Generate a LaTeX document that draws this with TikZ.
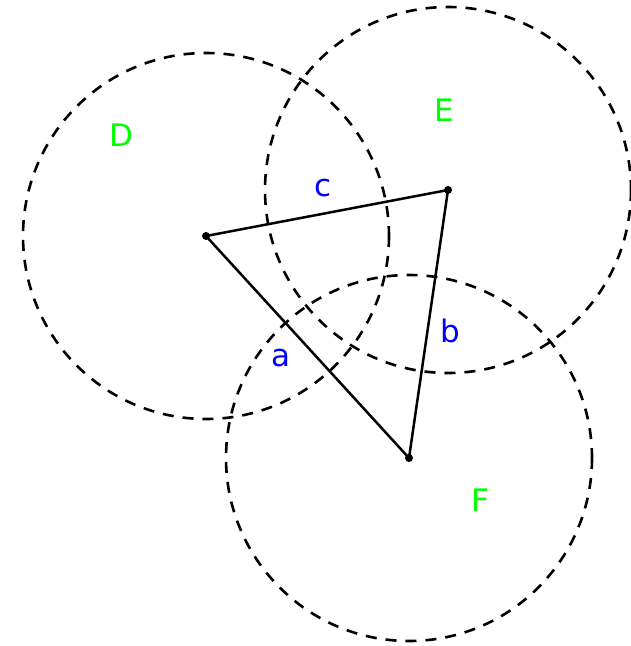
\documentclass[tikz,border=0pt]{standalone}
\usepackage{fontspec}
\setmainfont{DejaVu Sans}
\begin{document}
\begin{tikzpicture}[x=1pt,y=-1pt,
  zone/.style={draw=black,line width=2.6pt,dash pattern=on 11pt off 9pt},
  side/.style={draw=black,line width=2.5pt},
  dot/.style={circle,fill=black,inner sep=0pt,minimum size=8pt},
  zlabel/.style={text=green,font=\fontsize{31}{31}\selectfont,inner sep=0pt},
  slabel/.style={text=blue,font=\fontsize{31}{31}\selectfont,inner sep=0pt}]
\useasboundingbox (0,0) rectangle (631,646);
\coordinate (cD) at (206,236);
\coordinate (cE) at (448,190);
\coordinate (cF) at (409,458);
\draw[zone] (cD) circle[radius=183];
\draw[zone] (cE) circle[radius=183];
\draw[zone] (cF) circle[radius=183];
\node[dot] (pD) at (cD) {};
\node[dot] (pE) at (cE) {};
\node[dot] (pF) at (cF) {};
\draw[side] (pD.center) -- (pE.center) -- (pF.center) -- cycle;
\node[zlabel] (lD) at (121,135) {D};
\node[zlabel] (lE) at (444,110) {E};
\node[zlabel] (lF) at (480,500) {F};
\node[slabel] (la) at (281,358) {a};
\node[slabel] (lb) at (450,331) {b};
\node[slabel] (lc) at (323,188) {c};
\end{tikzpicture}
\end{document}
